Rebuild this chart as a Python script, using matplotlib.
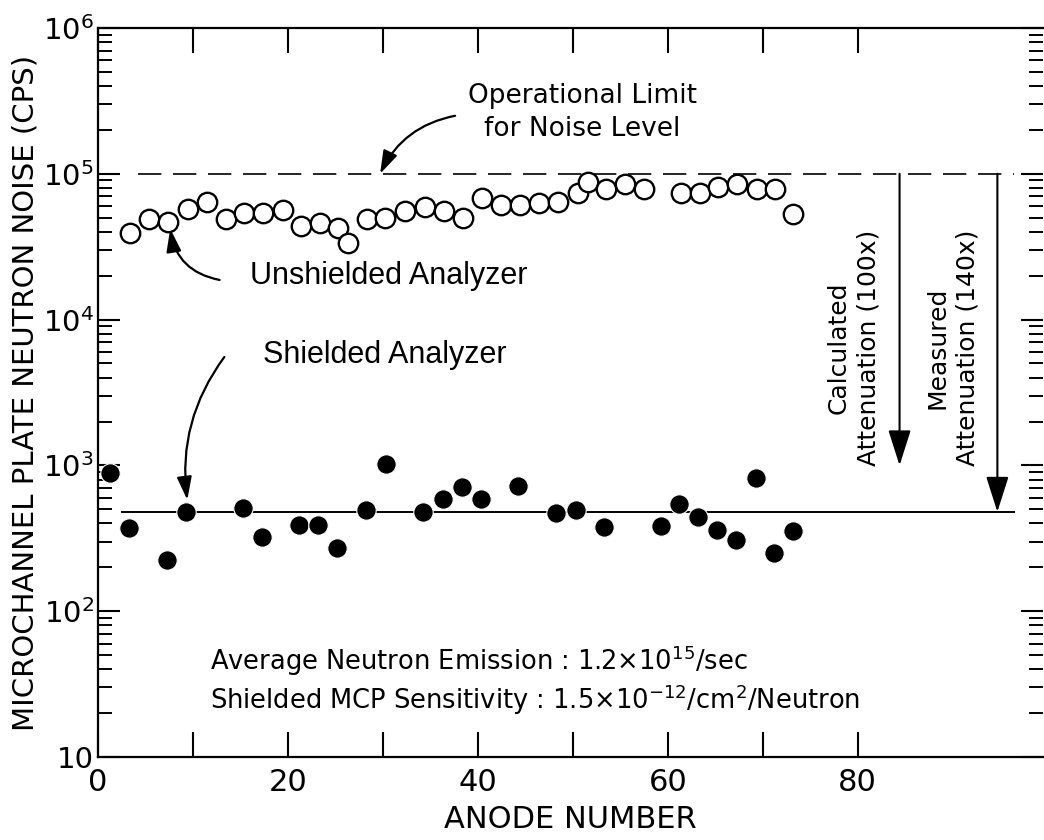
import numpy as np
import matplotlib
matplotlib.use("Agg")
from matplotlib import pyplot as plt
from matplotlib.ticker import LogLocator, FixedLocator, NullLocator, NullFormatter

# unshielded analyzer noise (open circles)
anode_open = [3.4, 5.4, 7.4, 9.5, 11.5, 13.5, 15.4, 17.4, 19.5, 21.4, 23.4, 25.3, 26.3,
              28.3, 30.2, 32.3, 34.4, 36.4, 38.4, 40.4, 42.4, 44.4, 46.4, 48.4, 50.5,
              51.6, 53.5, 55.5, 57.5, 61.4, 63.4, 65.3, 67.3, 69.4, 71.3, 73.2]
noise_open = [39300, 49000, 47000, 57500, 64500, 49000, 53700, 53700, 56000, 43600,
              46000, 42600, 33500, 49000, 50000, 55600, 59000, 55600, 50000, 68000,
              61000, 61000, 63000, 64000, 73800, 88000, 78700, 85000, 78700, 73800,
              73800, 81500, 85000, 78700, 78700, 53000]

# shielded analyzer noise (filled circles)
anode_fill = [1.3, 3.3, 7.3, 9.3, 15.3, 17.3, 21.2, 23.2, 25.2, 28.2, 30.3, 34.2, 36.3,
              38.3, 40.3, 44.2, 48.2, 50.3, 53.3, 59.3, 61.2, 63.2, 65.2, 67.2, 69.3,
              71.2, 73.2]
noise_fill = [890, 372, 224, 479, 510, 323, 390, 390, 271, 494, 1020, 479, 588, 711,
              588, 722, 472, 494, 378, 381, 543, 443, 360, 308, 820, 251, 355]

op_limit = 1.0e5
shield_level = 480
calc_att = 100

x_ticks = [0, 10, 20, 30, 40, 50, 60, 70, 80]
x_labels = ["0", "", "20", "", "40", "", "60", "", "80"]
y_ticks = [10, 1e2, 1e3, 1e4, 1e5, 1e6]
y_labels = ["10", r"$10^{2}$", r"$10^{3}$", r"$10^{4}$", r"$10^{5}$", r"$10^{6}$"]

plt.rcParams['font.family'] = ['DejaVu Sans']
plt.rcParams['mathtext.fontset'] = 'dejavusans'

fig = plt.figure(figsize=(10.44, 8.4), dpi=100)
ax = fig.add_axes([0.0939, 0.0988, 0.9051, 0.8679])
ax.set_yscale('log')
ax.set_xlim(0, 99.5)
ax.set_ylim(10, 1e6)

# reference levels
ax.plot([4.2, 96.5], [op_limit, op_limit], color='k', lw=1.2, ls=(0, (14, 7)), zorder=1)
ax.plot([2.5, 96.5], [shield_level, shield_level], color='k', lw=1.4, zorder=1)

ax.plot(anode_open, noise_open, 'o', ms=14, mfc='white', mec='k', mew=1.7, zorder=3)
ax.plot(anode_fill, noise_fill, 'o', ms=14, mfc='k', mec='white', mew=0.8, zorder=3)

# attenuation arrows
arrow_kw = dict(arrowstyle='-|>,head_length=2.2,head_width=0.7', color='k', lw=1.5,
                shrinkA=0, shrinkB=0)
ax.annotate("", xy=(84.4, op_limit / calc_att), xytext=(84.4, op_limit), arrowprops=arrow_kw)
ax.annotate("", xy=(94.7, shield_level), xytext=(94.7, op_limit), arrowprops=arrow_kw)

ax.text(79.6, 6400, "Calculated\nAttenuation (100x)", rotation=90, ha='center', va='center',
        multialignment='center', fontsize=18, linespacing=1.3)
ax.text(90.0, 6400, "Measured\nAttenuation (140x)", rotation=90, ha='center', va='center',
        multialignment='center', fontsize=18, linespacing=1.3)

# callouts
curve_kw = dict(arrowstyle='-|>,head_length=1.4,head_width=0.45', color='k', lw=1.6,
                shrinkA=0, shrinkB=0)
ax.text(51.0, 2.65e5, "Operational Limit\nfor Noise Level", ha='center', va='center',
        fontsize=19, linespacing=1.35)
ax.annotate("", xy=(29.7, op_limit), xytext=(37.6, 2.5e5),
            arrowprops=dict(connectionstyle="arc3,rad=0.25", **curve_kw))

ax.text(16.0, 19900, "Unshielded Analyzer", ha='left', va='center', fontsize=22,
        family='Liberation Sans')
ax.annotate("", xy=(7.6, 42000), xytext=(12.8, 18700),
            arrowprops=dict(connectionstyle="arc3,rad=-0.35", **curve_kw))

ax.text(17.4, 5720, "Shielded Analyzer", ha='left', va='center', fontsize=22,
        family='Liberation Sans')
ax.annotate("", xy=(9.4, 580), xytext=(13.3, 5540),
            arrowprops=dict(connectionstyle="arc3,rad=0.2", **curve_kw))

ax.text(11.8, 46, r"Average Neutron Emission : 1.2$\times$10$^{15}$/sec", ha='left',
        va='center', fontsize=18.5)
ax.text(11.8, 24.6, r"Shielded MCP Sensitivity : 1.5$\times$10$^{-12}$/cm$^{2}$/Neutron",
        ha='left', va='center', fontsize=18.5)

# axes styling
ax.spines['right'].set_visible(False)
for s in ['left', 'bottom', 'top']:
    ax.spines[s].set_linewidth(1.6)

ax.xaxis.set_major_locator(FixedLocator(x_ticks))
ax.set_xticklabels(x_labels)
ax.xaxis.set_minor_locator(NullLocator())
ax.yaxis.set_major_locator(FixedLocator(y_ticks))
ax.set_yticklabels(y_labels)
ax.yaxis.set_minor_locator(LogLocator(base=10, subs=np.arange(2, 10)))
ax.yaxis.set_minor_formatter(NullFormatter())

ax.tick_params(axis='x', which='major', direction='in', length=18, width=1.5,
               top=True, labelsize=22, pad=8)
ax.tick_params(axis='y', which='major', direction='in', length=16, width=1.5,
               right=True, labelsize=21, pad=3)
ax.tick_params(axis='y', which='minor', direction='in', length=10, width=1.4, right=True)

ax.set_xlabel("ANODE NUMBER", fontsize=22, labelpad=6)
ax.set_ylabel("MICROCHANNEL PLATE NEUTRON NOISE (CPS)", fontsize=21, labelpad=2)

fig.savefig("out.png", dpi=100)
